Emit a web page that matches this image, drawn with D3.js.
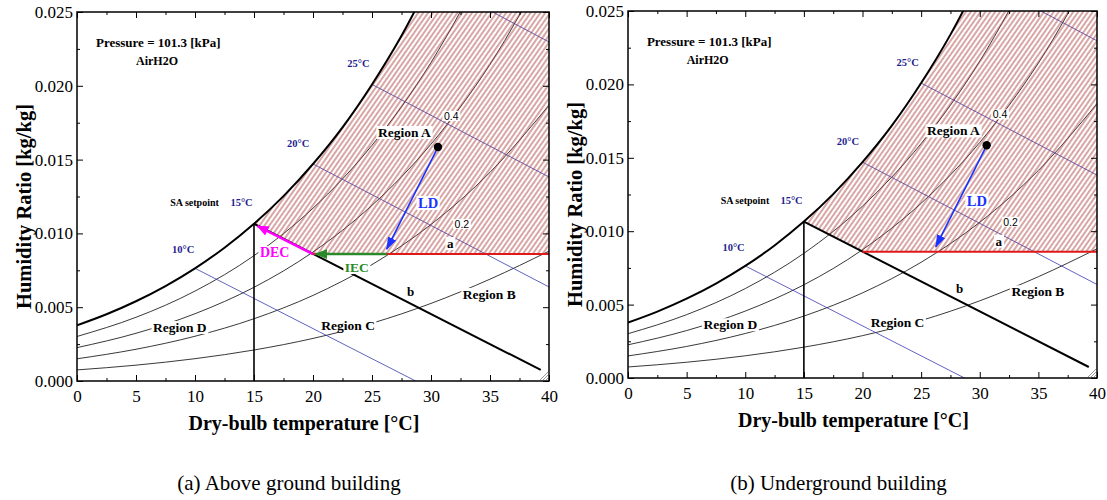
<!DOCTYPE html>
<html><head><meta charset="utf-8">
<script src="https://cdn.jsdelivr.net/npm/d3@7"></script>
<style>body{margin:0;background:#fff} svg{display:block}</style>
</head><body>
<svg id="chart" width="1107" height="500"></svg>
<script>
// ---------- data ----------
const satT = [0, 2.5, 5, 7.5, 10, 12.5, 15, 17.5, 20, 22.5, 25, 27.5, 30];
const satW = [0.003776, 0.004525, 0.005404, 0.006434, 0.007634, 0.009031, 0.010653, 0.012528, 0.014703, 0.017188, 0.020092, 0.023391, 0.027212];
const rhT  = [0, 5, 10, 15, 20, 25, 30, 35, 40];
const rh80 = [0.003017, 0.004316, 0.006092, 0.008493, 0.011707, 0.015970, 0.021581, 0.028940, 0.0380];
const rh60 = [0.002261, 0.003232, 0.004558, 0.006348, 0.008739, 0.011902, 0.016046, 0.021453, 0.028450];
const rh40 = [0.001505, 0.002151, 0.003031, 0.004218, 0.005799, 0.007884, 0.010606, 0.014139, 0.018683];
const rh20 = [0.000751, 0.001073, 0.001512, 0.002101, 0.002885, 0.003917, 0.005257, 0.006900, 0.008800];
const rhCurves = [rh80, rh60, rh40, rh20];
// wet-bulb lines: [T start, W start, T end, W end]
const wetBulbLines = [
  [10, 0.007634, 28.7, 0.0],
  [20, 0.014703, 40, 0.00637],
  [25, 0.020092, 40, 0.01382],
  [30, 0.027212, 40, 0.02297]
];
const setpointLine = [[15, 0.010653], [39.3, 0.00075]];   // line b (15°C wet bulb)
const setpointT = 15;
const levelW = 0.0086;            // line a
const levelT = [20, 40];
const statePoint = [30.59, 0.01585];
const ldEnd = [26.25, 0.00893];
const decArrow = [[20.0, 0.0086], [15.3, 0.0105]];
const iecArrow = [[26.25, 0.0086], [20.2, 0.0086]];
const xTicks = [0, 5, 10, 15, 20, 25, 30, 35, 40];
const xMinor = [2.5, 7.5, 12.5, 17.5, 22.5, 27.5, 32.5, 37.5];
const yTicks = [0, 0.005, 0.010, 0.015, 0.020, 0.025];
const yMinor = [0.0025, 0.0075, 0.0125, 0.0175, 0.0225];
const captions = ["(a) Above ground building", "(b) Underground building"];

// ---------- layout ----------
const panels = [
  {left: 77, right: 549, top: 12, bottom: 381, full: true},
  {left: 628, right: 1097, top: 11, bottom: 378, full: false}
];
const serif = "'Liberation Serif','Times New Roman',serif";
const sans = "'Liberation Sans',Arial,sans-serif";
const navy = "#1f1f8f";

const svg = d3.select('#chart');
const defs = svg.append('defs');

function marker(id, color, len, wid) {
  defs.append('marker').attr('id', id)
    .attr('viewBox', `0 0 ${len} ${wid}`).attr('refX', len - 1).attr('refY', wid / 2)
    .attr('markerWidth', len).attr('markerHeight', wid)
    .attr('markerUnits', 'userSpaceOnUse').attr('orient', 'auto')
    .append('path').attr('d', `M0,0L${len},${wid / 2}L0,${wid}Z`).attr('fill', color);
}
marker('arrBlue', '#1a33ff', 13, 9);
marker('arrMag', '#ff00ff', 12, 10);
marker('arrGreen', '#2a8a2a', 13, 10);

panels.forEach((p, i) => {
  const x = d3.scaleLinear().domain([0, 40]).range([p.left, p.right]);
  const y = d3.scaleLinear().domain([0, 0.025]).range([p.bottom, p.top]);
  const g = svg.append('g');

  defs.append('clipPath').attr('id', 'clip' + i).append('rect')
    .attr('x', p.left).attr('y', p.top).attr('width', p.right - p.left).attr('height', p.bottom - p.top);
  const pat = defs.append('pattern').attr('id', 'hatch' + i).attr('patternUnits', 'userSpaceOnUse')
    .attr('width', 4).attr('height', 4).attr('patternTransform', 'rotate(35)');
  pat.append('line').attr('x1', 2).attr('y1', -1).attr('x2', 2).attr('y2', 5)
    .attr('stroke', '#a83a36').attr('stroke-width', 0.9);

  const plot = g.append('g').attr('clip-path', `url(#clip${i})`);
  const line = d3.line().x(d => x(d[0])).y(d => y(d[1])).curve(d3.curveMonotoneX);

  // RH curves
  rhCurves.forEach(arr => {
    plot.append('path').attr('d', line(rhT.map((t, j) => [t, arr[j]])))
      .attr('fill', 'none').attr('stroke', '#222').attr('stroke-width', 0.9);
  });
  // wet bulb lines
  wetBulbLines.forEach(l => {
    plot.append('line').attr('x1', x(l[0])).attr('y1', y(l[1])).attr('x2', x(l[2])).attr('y2', y(l[3]))
      .attr('stroke', '#3a3ab4').attr('stroke-width', 0.8);
  });
  // hatched region
  const satPts = satT.map((t, j) => [t, satW[j]]);
  const sub = satPts.filter(d => d[0] >= setpointT);
  const hatchD = line(sub) +
    `L${x(40)},${y(sub[sub.length - 1][1])}L${x(40)},${y(levelW)}L${x(levelT[0])},${y(levelW)}Z`;
  plot.append('path').attr('d', hatchD).attr('fill', `url(#hatch${i})`);

  // saturation curve
  plot.append('path').attr('d', line(satPts)).attr('fill', 'none')
    .attr('stroke', '#000').attr('stroke-width', 2);
  // vertical line at setpoint
  plot.append('line').attr('x1', x(setpointT)).attr('x2', x(setpointT))
    .attr('y1', y(satW[satT.indexOf(setpointT)])).attr('y2', y(0))
    .attr('stroke', '#000').attr('stroke-width', 1.6);
  // line b
  plot.append('line').attr('x1', x(setpointLine[0][0])).attr('y1', y(setpointLine[0][1]))
    .attr('x2', x(setpointLine[1][0])).attr('y2', y(setpointLine[1][1]))
    .attr('stroke', '#000').attr('stroke-width', 2);
  // line a (red)
  plot.append('line').attr('x1', x(levelT[0])).attr('x2', x(levelT[1]))
    .attr('y1', y(levelW)).attr('y2', y(levelW)).attr('stroke', '#e01818').attr('stroke-width', 2);

  // corner grip
  const cx = x(40), cy = y(0);
  [3, 6, 9].forEach(k => {
    g.append('line').attr('x1', cx - k).attr('y1', cy - 1).attr('x2', cx - 1).attr('y2', cy - k)
      .attr('stroke', '#999').attr('stroke-width', 1);
  });

  if (p.full) {
    g.append('line').attr('x1', x(decArrow[0][0])).attr('y1', y(decArrow[0][1]))
      .attr('x2', x(decArrow[1][0])).attr('y2', y(decArrow[1][1]))
      .attr('stroke', '#ff00ff').attr('stroke-width', 2.5).attr('marker-end', 'url(#arrMag)');
    g.append('line').attr('x1', x(iecArrow[0][0])).attr('y1', y(iecArrow[0][1]))
      .attr('x2', x(iecArrow[1][0])).attr('y2', y(iecArrow[1][1]))
      .attr('stroke', '#2a8a2a').attr('stroke-width', 2.5).attr('marker-end', 'url(#arrGreen)');
  }
  // LD arrow
  g.append('line').attr('x1', x(statePoint[0])).attr('y1', y(statePoint[1]))
    .attr('x2', x(ldEnd[0])).attr('y2', y(ldEnd[1]))
    .attr('stroke', '#1a33ff').attr('stroke-width', 1.6).attr('marker-end', 'url(#arrBlue)');
  g.append('circle').attr('cx', x(statePoint[0])).attr('cy', y(statePoint[1])).attr('r', 4.2).attr('fill', '#000');

  // labels
  const labels = [
    {t: 'Pressure = 101.3 [kPa]', T: 1.61, W: 0.02263, size: 13, color: '#000', font: serif, bold: true},
    {t: 'AirH2O', T: 5.0, W: 0.02141, size: 12, color: '#000', font: serif, bold: true},
    {t: '25°C', T: 22.9, W: 0.02127, size: 10.5, color: navy, font: serif, bold: true},
    {t: '20°C', T: 17.8, W: 0.01585, size: 10.5, color: navy, font: serif, bold: true},
    {t: 'SA setpoint', T: 7.9, W: 0.01186, size: 10, color: '#000', font: serif, bold: true},
    {t: '15°C', T: 13.0, W: 0.01186, size: 10.5, color: navy, font: serif, bold: true},
    {t: '10°C', T: 8.05, W: 0.00867, size: 10.5, color: navy, font: serif, bold: true},
    {t: 'Region A', T: 25.5, W: 0.01653, size: 13.5, color: '#000', font: serif, bold: true, box: true},
    {t: '0.4', T: 31.1, W: 0.01768, size: 10.5, color: '#000', font: sans, bold: false, box: true},
    {t: '0.2', T: 32.0, W: 0.01037, size: 10.5, color: '#000', font: sans, bold: false, box: true},
    {t: 'LD', T: 28.9, W: 0.01172, size: 14.5, color: '#1a33ff', font: serif, bold: true, box: true},
    {t: 'a', T: 31.35, W: 0.00901, size: 13, color: '#000', font: serif, bold: true, box: true},
    {t: 'b', T: 27.97, W: 0.00576, size: 13, color: '#000', font: serif, bold: true, box: true},
    {t: 'Region B', T: 32.7, W: 0.00556, size: 13.5, color: '#000', font: serif, bold: true, box: true},
    {t: 'Region C', T: 20.7, W: 0.00346, size: 13.5, color: '#000', font: serif, bold: true, box: true},
    {t: 'Region D', T: 6.44, W: 0.00332, size: 13.5, color: '#000', font: serif, bold: true, box: true}
  ];
  if (p.full) {
    labels.push({t: 'DEC', T: 15.5, W: 0.0084, size: 14, color: '#ff00ff', font: serif, bold: true, box: true});
    labels.push({t: 'IEC', T: 22.7, W: 0.00738, size: 13.5, color: '#2a8a2a', font: serif, bold: true, box: true});
  }
  labels.forEach(l => {
    const txt = g.append('text').attr('x', x(l.T)).attr('y', y(l.W)).text(l.t)
      .attr('font-family', l.font).attr('font-size', l.size).attr('font-weight', l.bold ? 'bold' : 'normal')
      .attr('fill', l.color);
    if (l.box) {
      const bb = txt.node().getBBox();
      g.insert('rect', () => txt.node()).attr('x', bb.x - 1.5).attr('y', bb.y + 1).attr('width', bb.width + 3)
        .attr('height', bb.height - 2).attr('fill', '#fff');
    }
  });

  // frame
  g.append('rect').attr('x', p.left).attr('y', p.top).attr('width', p.right - p.left).attr('height', p.bottom - p.top)
    .attr('fill', 'none').attr('stroke', '#000').attr('stroke-width', 1.5);

  // axes
  const axFont = sel => sel.selectAll('text').attr('font-family', serif).attr('font-size', 17).attr('fill', '#000');
  const clean = sel => { sel.select('.domain').remove(); sel.selectAll('line').attr('stroke', '#000'); };
  g.append('g').attr('transform', `translate(0,${p.bottom})`)
    .call(d3.axisBottom(x).tickValues(xTicks).tickSize(-6).tickPadding(9).tickFormat(d3.format('d')))
    .call(clean).call(axFont);
  g.append('g').attr('transform', `translate(0,${p.bottom})`)
    .call(d3.axisBottom(x).tickValues(xMinor).tickSize(-3).tickFormat('')).call(clean);
  g.append('g').attr('transform', `translate(0,${p.top})`)
    .call(d3.axisTop(x).tickValues(xTicks).tickSize(-6).tickFormat('')).call(clean);
  g.append('g').attr('transform', `translate(0,${p.top})`)
    .call(d3.axisTop(x).tickValues(xMinor).tickSize(-3).tickFormat('')).call(clean);
  g.append('g').attr('transform', `translate(${p.left},0)`)
    .call(d3.axisLeft(y).tickValues(yTicks).tickSize(-6).tickPadding(4).tickFormat(d3.format('.3f')))
    .call(clean).call(axFont);
  g.append('g').attr('transform', `translate(${p.left},0)`)
    .call(d3.axisLeft(y).tickValues(yMinor).tickSize(-3).tickFormat('')).call(clean);
  g.append('g').attr('transform', `translate(${p.right},0)`)
    .call(d3.axisRight(y).tickValues(yTicks).tickSize(-6).tickFormat('')).call(clean);
  g.append('g').attr('transform', `translate(${p.right},0)`)
    .call(d3.axisRight(y).tickValues(yMinor).tickSize(-3).tickFormat('')).call(clean);

  // titles
  g.append('text').attr('x', (p.left + p.right) / 2 - 9).attr('y', p.bottom + 49)
    .attr('text-anchor', 'middle').attr('font-family', serif).attr('font-weight', 'bold').attr('font-size', 20)
    .text('Dry-bulb temperature [°C]');
  g.append('text').attr('transform', `translate(${p.left - 46},${(p.top + p.bottom) / 2 + 10}) rotate(-90)`)
    .attr('text-anchor', 'middle').attr('font-family', serif).attr('font-weight', 'bold').attr('font-size', 20.5)
    .text('Humidity Ratio [kg/kg]');
  g.append('text').attr('x', (p.left + p.right) / 2 - 24).attr('y', 490)
    .attr('text-anchor', 'middle').attr('font-family', serif).attr('font-size', 21)
    .text(captions[i]);
});
</script>
</body></html>
